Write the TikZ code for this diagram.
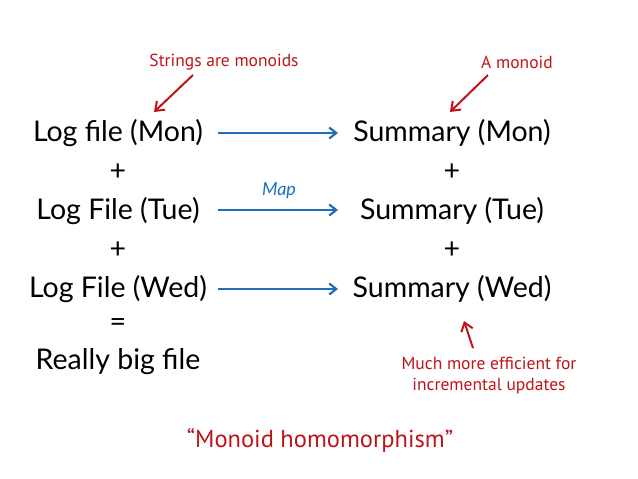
\documentclass[tikz,border=0pt]{standalone}
\usepackage{fontspec}
\setmainfont{Lato}
\newfontfamily\handfont{PT Sans}
\usetikzlibrary{arrows.meta}
\definecolor{annred}{RGB}{190,20,25}
\definecolor{mapblue}{RGB}{30,110,185}
\tikzset{
  main/.style={font=\fontsize{28.5}{32}\selectfont, inner sep=0pt, anchor=center},
  ann/.style={font=\handfont\fontsize{17.5}{21}\selectfont, text=annred, inner sep=0pt, align=center},
  maparrow/.style={draw=mapblue, line width=2.2pt, -{Straight Barb[length=7pt,width=11pt]}},
  annarrow/.style={draw=annred, line width=2pt, -{Straight Barb[length=8pt,width=12pt]}}
}
\begin{document}
\begin{tikzpicture}[x=1pt,y=-1pt]
\useasboundingbox (0,0) rectangle (638,479);
\node[main] (l1) at (118,133) {Log file (Mon)};
\node[main] (p1) at (118,172) {+};
\node[main] (l2) at (118,211) {Log File (Tue)};
\node[main] (p2) at (118,250) {+};
\node[main] (l3) at (118,289) {Log File (Wed)};
\node[main] (eq) at (118,325) {=};
\node[main] (big) at (118,362) {Really big file};
\node[main] (s1) at (452,133) {Summary (Mon)};
\node[main] (q1) at (452,172) {+};
\node[main] (s2) at (452,211) {Summary (Tue)};
\node[main] (q2) at (452,250) {+};
\node[main] (s3) at (452,289) {Summary (Wed)};
\coordinate (a1s) at (218,133); \coordinate (a1e) at (338,133);
\coordinate (a2s) at (218,210); \coordinate (a2e) at (338,210);
\coordinate (a3s) at (218,289); \coordinate (a3e) at (338,289);
\draw[maparrow] (a1s) -- (a1e);
\draw[maparrow] (a2s) -- (a2e);
\draw[maparrow] (a3s) -- (a3e);
\node[font=\itshape\fontsize{18}{21}\selectfont, text=mapblue, inner sep=0pt] (map) at (279,191) {Map};
\node[ann] (str) at (224,62) {Strings are monoids};
\node[ann] (mon) at (517,62) {A monoid};
\coordinate (strt) at (193,75); \coordinate (strh) at (154,112);
\coordinate (mont) at (488,75); \coordinate (monh) at (450,112);
\draw[annarrow] (strt) -- (strh);
\draw[annarrow] (mont) -- (monh);
\node[ann] (eff) at (489,376) {Much more efficient for\\incremental updates};
\coordinate (efft) at (473,348); \coordinate (effh) at (464,321);
\draw[annarrow] (efft) -- (effh);
\node[ann, font=\handfont\fontsize{24.5}{28}\selectfont] (hom) at (320,440) {“Monoid homomorphism”};
\end{tikzpicture}
\end{document}
